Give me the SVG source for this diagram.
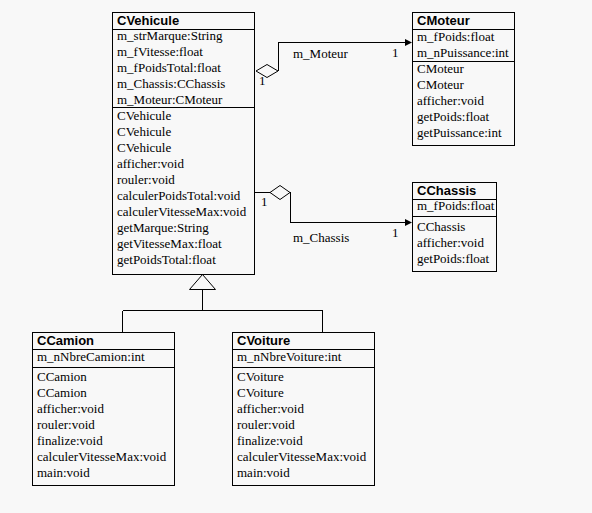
<svg xmlns="http://www.w3.org/2000/svg" width="592" height="513" viewBox="0 0 592 513">
<style>
.box{fill:#f8f8f8;stroke:#000;stroke-width:1;shape-rendering:crispEdges}
.sep{stroke:#000;stroke-width:1;shape-rendering:crispEdges}
.t{font-family:"Liberation Sans",Arial,sans-serif;font-weight:bold;font-size:13px;fill:#000}
.m{font-family:"Liberation Serif","Times New Roman",serif;font-size:13px;fill:#000}
.ln{fill:none;stroke:#000;stroke-width:1;shape-rendering:crispEdges}
.dia{fill:#f8f8f8;stroke:#000;stroke-width:1}
.arr{fill:#000;stroke:none}
</style>
<rect width="592" height="513" fill="#f8f8f8"/>
<g id="connectors">
<polyline class="ln" points="278.5,71 278.5,42.5 406,42.5"/>
<polygon class="arr" points="405,39 412,42.5 405,46"/>
<polygon class="dia" points="256,71 267,64.5 278,71 267,77.5"/>
<line class="ln" x1="254" y1="192.5" x2="270" y2="192.5"/>
<polyline class="ln" points="290.5,192 290.5,222.5 406,222.5"/>
<polygon class="arr" points="405,219 412,222.5 405,226"/>
<polygon class="dia" points="270,192.5 280,185.5 290,192.5 280,199.5"/>
<polygon class="dia" points="202.5,274.5 189.5,289.5 215.5,289.5" style="fill:none"/>
<line class="ln" x1="202.5" y1="289.5" x2="202.5" y2="310.5"/>
<line class="ln" x1="122.5" y1="310.5" x2="322.5" y2="310.5"/>
<line class="ln" x1="122.5" y1="310.5" x2="122.5" y2="332"/>
<line class="ln" x1="322.5" y1="310.5" x2="322.5" y2="332"/>
<text class="m" x="259" y="85">1</text>
<text class="m" x="293" y="58">m_Moteur</text>
<text class="m" x="392" y="57">1</text>
<text class="m" x="261" y="206">1</text>
<text class="m" x="293" y="242">m_Chassis</text>
<text class="m" x="392" y="237">1</text>
</g>
<g id="CVehicule">
<rect class="box" x="112.5" y="12.5" width="142" height="262"/>
<line class="sep" x1="112.5" y1="29.5" x2="254.5" y2="29.5"/>
<line class="sep" x1="112.5" y1="107.5" x2="254.5" y2="107.5"/>
<text class="t" x="117" y="25">CVehicule</text>
<text class="m" x="117" y="40">m_strMarque:String</text>
<text class="m" x="117" y="56">m_fVitesse:float</text>
<text class="m" x="117" y="72">m_fPoidsTotal:float</text>
<text class="m" x="117" y="88">m_Chassis:CChassis</text>
<text class="m" x="117" y="104">m_Moteur:CMoteur</text>
<text class="m" x="117" y="120">CVehicule</text>
<text class="m" x="117" y="136">CVehicule</text>
<text class="m" x="117" y="152">CVehicule</text>
<text class="m" x="117" y="168">afficher:void</text>
<text class="m" x="117" y="184">rouler:void</text>
<text class="m" x="117" y="200">calculerPoidsTotal:void</text>
<text class="m" x="117" y="216">calculerVitesseMax:void</text>
<text class="m" x="117" y="232">getMarque:String</text>
<text class="m" x="117" y="248">getVitesseMax:float</text>
<text class="m" x="117" y="264">getPoidsTotal:float</text>
</g>
<g id="CMoteur">
<rect class="box" x="412.5" y="12.5" width="102" height="133"/>
<line class="sep" x1="412.5" y1="29.5" x2="514.5" y2="29.5"/>
<line class="sep" x1="412.5" y1="61.5" x2="514.5" y2="61.5"/>
<text class="t" x="417" y="25">CMoteur</text>
<text class="m" x="417" y="41">m_fPoids:float</text>
<text class="m" x="417" y="57">m_nPuissance:int</text>
<text class="m" x="417" y="73">CMoteur</text>
<text class="m" x="417" y="89">CMoteur</text>
<text class="m" x="417" y="105">afficher:void</text>
<text class="m" x="417" y="121">getPoids:float</text>
<text class="m" x="417" y="137">getPuissance:int</text>
</g>
<g id="CChassis">
<rect class="box" x="412.5" y="182.5" width="84" height="89"/>
<line class="sep" x1="412.5" y1="199.5" x2="496.5" y2="199.5"/>
<line class="sep" x1="412.5" y1="216.5" x2="496.5" y2="216.5"/>
<text class="t" x="417" y="195">CChassis</text>
<text class="m" x="417" y="210">m_fPoids:float</text>
<text class="m" x="417" y="231">CChassis</text>
<text class="m" x="417" y="247">afficher:void</text>
<text class="m" x="417" y="263">getPoids:float</text>
</g>
<g id="CCamion">
<rect class="box" x="32.5" y="332.5" width="142" height="153"/>
<line class="sep" x1="32.5" y1="349.5" x2="174.5" y2="349.5"/>
<line class="sep" x1="32.5" y1="367.5" x2="174.5" y2="367.5"/>
<text class="t" x="37" y="345">CCamion</text>
<text class="m" x="37" y="361">m_nNbreCamion:int</text>
<text class="m" x="37" y="381">CCamion</text>
<text class="m" x="37" y="397">CCamion</text>
<text class="m" x="37" y="413">afficher:void</text>
<text class="m" x="37" y="429">rouler:void</text>
<text class="m" x="37" y="445">finalize:void</text>
<text class="m" x="37" y="461">calculerVitesseMax:void</text>
<text class="m" x="37" y="477">main:void</text>
</g>
<g id="CVoiture">
<rect class="box" x="232.5" y="332.5" width="142" height="153"/>
<line class="sep" x1="232.5" y1="349.5" x2="374.5" y2="349.5"/>
<line class="sep" x1="232.5" y1="367.5" x2="374.5" y2="367.5"/>
<text class="t" x="237" y="345">CVoiture</text>
<text class="m" x="237" y="361">m_nNbreVoiture:int</text>
<text class="m" x="237" y="381">CVoiture</text>
<text class="m" x="237" y="397">CVoiture</text>
<text class="m" x="237" y="413">afficher:void</text>
<text class="m" x="237" y="429">rouler:void</text>
<text class="m" x="237" y="445">finalize:void</text>
<text class="m" x="237" y="461">calculerVitesseMax:void</text>
<text class="m" x="237" y="477">main:void</text>
</g>
</svg>
